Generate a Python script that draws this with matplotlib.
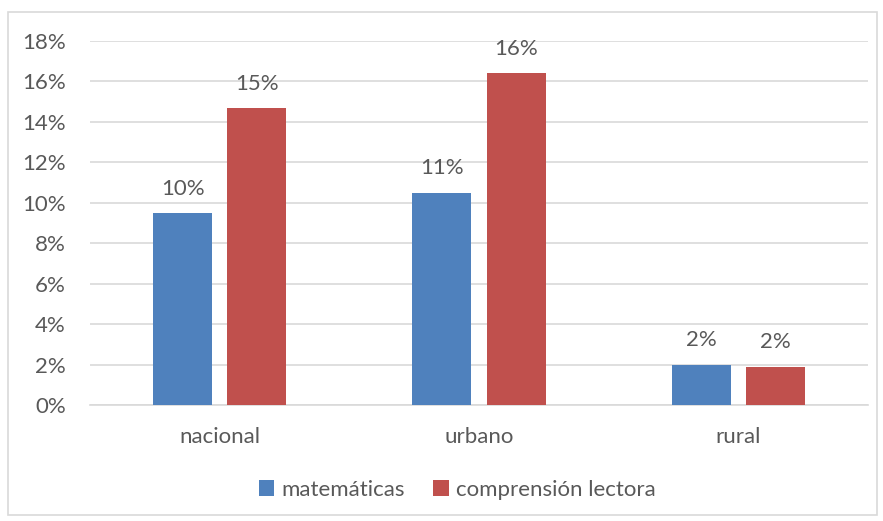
import numpy as np
import matplotlib.pyplot as plt
from matplotlib.patches import Rectangle

categorias = ['nacional', 'urbano', 'rural']
matematicas = [9.5, 10.5, 2.0]
comprension = [14.7, 16.4, 1.9]
etiq_mat = ['10%', '11%', '2%']
etiq_comp = ['15%', '16%', '2%']
yticks = np.arange(0, 20, 2)

azul = '#4F81BD'
rojo = '#C0504D'
gris = '#595959'
fs = 16

plt.rcParams['font.family'] = ['Lato', 'DejaVu Sans']

fig = plt.figure(figsize=(8.83, 5.21), dpi=100)
ax = fig.add_axes([90/883, 1-405/521, (868-90)/883, (405-41)/521])

x = np.arange(len(categorias))
w = 0.228
g = 0.058
b1 = ax.bar(x - (w+g)/2, matematicas, w, color=azul, label='matemáticas', zorder=3)
b2 = ax.bar(x + (w+g)/2, comprension, w, color=rojo, label='comprensión lectora', zorder=3)

for rect, t in zip(b1, etiq_mat):
    ax.text(rect.get_x()+rect.get_width()/2, rect.get_height()+0.9, t,
            ha='center', va='baseline', fontsize=fs, color=gris)
for rect, t in zip(b2, etiq_comp):
    ax.text(rect.get_x()+rect.get_width()/2, rect.get_height()+0.9, t,
            ha='center', va='baseline', fontsize=fs, color=gris)

ax.set_xlim(-0.5, 2.5)
ax.set_ylim(0, 18)
ax.set_yticks(yticks)
ax.set_yticklabels([f'{v}%' for v in yticks])
ax.set_xticks(x)
ax.set_xticklabels(categorias)
ax.tick_params(axis='both', length=0, labelsize=fs, colors=gris)
ax.tick_params(axis='y', pad=17.5)
ax.tick_params(axis='x', pad=16)
ax.grid(axis='y', color='#D9D9D9', linewidth=1.2, zorder=0)
for s in ['top', 'right', 'left']:
    ax.spines[s].set_visible(False)
ax.spines['bottom'].set_color('#D9D9D9')
ax.spines['bottom'].set_linewidth(1.2)

fig.legend(handles=[b1, b2], loc='center', bbox_to_anchor=(457/883, 1-490/521),
           ncol=2, frameon=False, fontsize=fs, labelcolor=gris,
           handlelength=0.7, handleheight=0.7, handletextpad=0.3, columnspacing=1.3)

fig.patches.append(Rectangle((8/883, 1-515/521), 869/883, 503/521,
                             transform=fig.transFigure, fill=False,
                             edgecolor='#D9D9D9', linewidth=1.2))

fig.savefig('out.png', dpi=100)
